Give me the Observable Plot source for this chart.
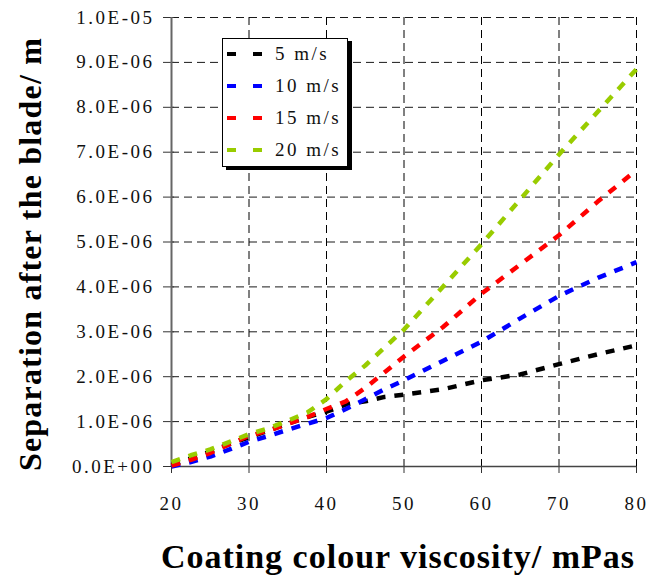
<!DOCTYPE html>
<html><head><meta charset="utf-8">
<script src="https://cdn.jsdelivr.net/npm/d3@7"></script>
<script src="https://cdn.jsdelivr.net/npm/@observablehq/plot@0.6"></script>
<style>
body{margin:0;background:#fff;}
#wrap{position:relative;width:652px;height:584px;font-family:"Liberation Serif",serif;background:#fff;}
#wrap svg{position:absolute;left:0;top:0;}
.title{position:absolute;font-weight:bold;white-space:nowrap;color:#000;text-align:center;height:40px;line-height:40px;}
#xt{left:148px;width:500px;top:537px;font-size:34px;letter-spacing:1px;}
#yt{left:-220px;width:500px;top:234px;transform:rotate(-90deg);font-size:32px;letter-spacing:1.2px;}
#legend{position:absolute;left:222px;top:38px;width:124px;height:127px;border:1px solid #000;background:#fff;box-shadow:4px 3px 0 #000;}
.row{position:absolute;left:0;height:20px;}
.dash{position:absolute;width:9px;height:4px;}
.lab{position:absolute;left:52px;font-size:19px;letter-spacing:2.5px;color:#111;white-space:nowrap;line-height:20px;top:0;}
</style></head><body><div id="wrap"></div>
<script>
// Coating colour viscosity (mPas)
const viscosity = [20, 22.5, 25, 27.5, 30, 32.5, 35, 37.5, 40, 42.5, 45, 47.5, 50, 55, 60, 65, 70, 75, 80];
// Separation after the blade, in micrometres (converted to m below)
const sep5  = [0.03, 0.18, 0.33, 0.50, 0.65, 0.80, 0.95, 1.10, 1.22, 1.38, 1.45, 1.55, 1.60, 1.72, 1.92, 2.05, 2.28, 2.50, 2.70];
const sep10 = [0.00, 0.10, 0.22, 0.38, 0.55, 0.68, 0.82, 0.95, 1.08, 1.28, 1.50, 1.72, 1.92, 2.35, 2.78, 3.30, 3.80, 4.20, 4.55];
const sep15 = [0.02, 0.15, 0.30, 0.50, 0.68, 0.80, 0.95, 1.10, 1.28, 1.45, 1.75, 2.10, 2.45, 3.10, 3.85, 4.50, 5.15, 5.90, 6.60];
const sep20 = [0.10, 0.25, 0.38, 0.55, 0.72, 0.85, 1.02, 1.20, 1.50, 1.90, 2.25, 2.65, 3.05, 4.00, 4.95, 5.95, 6.95, 7.90, 8.85];
const seriesNames = ["5 m/s", "10 m/s", "15 m/s", "20 m/s"];
const seriesColors = ["#000000", "#0000ff", "#ff0000", "#99cc00"];
const xTicks = [20, 30, 40, 50, 60, 70, 80];
const yTicksMicro = [0, 1, 2, 3, 4, 5, 6, 7, 8, 9, 10];
const xTitle = "Coating colour viscosity/ mPas";
const yTitle = "Separation after the blade/ m";

const allSeries = [sep5, sep10, sep15, sep20];
const rows = [];
allSeries.forEach((vals, s) => vals.forEach((v, i) => rows.push({x: viscosity[i], y: v * 1e-6, series: seriesNames[s]})));
const yTicks = yTicksMicro.map(v => v * 1e-6);

function sci(d) {
  if (Math.abs(d) < 1e-15) return "0.0E+00";
  const e = Math.floor(Math.log10(d) + 1e-9);
  const m = d / Math.pow(10, e);
  return m.toFixed(1) + "E" + (e < 0 ? "-" : "+") + String(Math.abs(e)).padStart(2, "0");
}

const chart = Plot.plot({
  width: 652, height: 584,
  marginLeft: 171, marginRight: 16, marginTop: 17, marginBottom: 118,
  style: {fontFamily: "Liberation Serif", fontSize: "19px", color: "#111", background: "transparent", letterSpacing: "2.5px"},
  x: {domain: [20, 80]},
  y: {domain: [0, 1e-5]},
  color: {domain: seriesNames, range: seriesColors},
  marks: [
    Plot.gridX(xTicks, {stroke: "#000", strokeOpacity: 1, strokeDasharray: "8,5"}),
    Plot.gridY(yTicks, {stroke: "#000", strokeOpacity: 0.9, strokeDasharray: "8,5"}),
    Plot.axisX(xTicks, {tickSize: 7, tickPadding: 23, label: null, tickFormat: d => String(d), stroke: "#333"}),
    Plot.axisY(yTicks, {tickSize: 11, dx: 3, tickPadding: 9, label: null, tickFormat: sci, stroke: "#333"}),
    Plot.ruleX([20], {stroke: "#666", strokeWidth: 2}),
    Plot.ruleY([0], {stroke: "#444", strokeWidth: 1.5}),
    Plot.line(rows, {x: "x", y: "y", z: "series", stroke: "series", strokeWidth: 4.5, strokeDasharray: "9,9", strokeLinecap: "butt"})
  ]
});

const wrap = document.getElementById("wrap");
wrap.appendChild(chart);

const xt = document.createElement("div"); xt.className = "title"; xt.id = "xt"; xt.textContent = xTitle; wrap.appendChild(xt);
const yt = document.createElement("div"); yt.className = "title"; yt.id = "yt"; yt.textContent = yTitle; wrap.appendChild(yt);

const legend = document.createElement("div"); legend.id = "legend";
seriesNames.forEach((name, i) => {
  const row = document.createElement("div"); row.className = "row";
  row.style.top = (5 + i * 32) + "px"; row.style.width = "120px";
  [4, 30].forEach(l => {
    const d = document.createElement("div"); d.className = "dash";
    d.style.left = l + "px"; d.style.top = "8px"; d.style.background = seriesColors[i];
    row.appendChild(d);
  });
  const lab = document.createElement("div"); lab.className = "lab"; lab.textContent = name;
  row.appendChild(lab);
  legend.appendChild(row);
});
wrap.appendChild(legend);
</script>
</body></html>
